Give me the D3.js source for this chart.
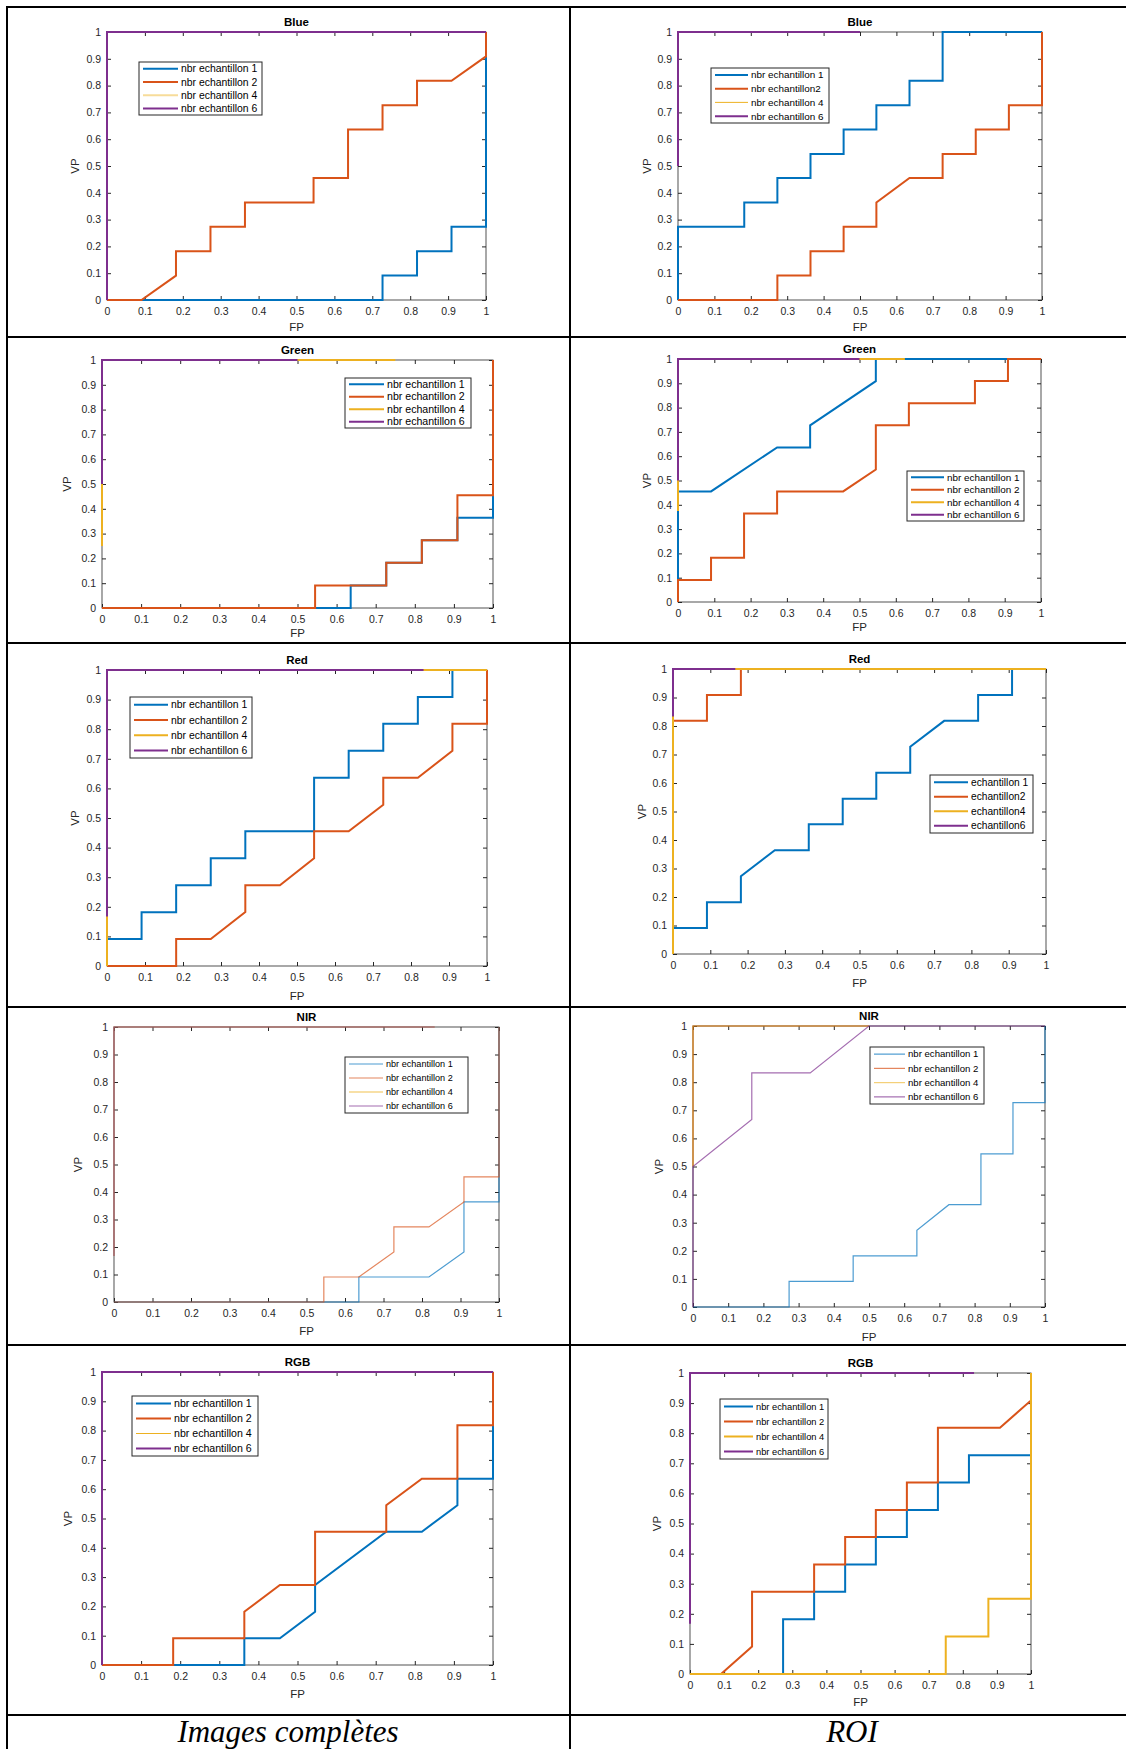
<!DOCTYPE html>
<html>
<head>
<meta charset="utf-8">
<script src="https://cdn.jsdelivr.net/npm/d3@7"></script>
<style>
  body { margin: 0; background: #fff; }
  svg { display: block; }
</style>
</head>
<body>
<svg width="1126" height="1749"></svg>
<script>
// Tick values and labels shared by every panel
const ticks = [0, 0.1, 0.2, 0.3, 0.4, 0.5, 0.6, 0.7, 0.8, 0.9, 1];
const tickLabels = ["0", "0.1", "0.2", "0.3", "0.4", "0.5", "0.6", "0.7", "0.8", "0.9", "1"];

// Legend texts
const namesNbr = ["nbr echantillon 1", "nbr echantillon 2", "nbr echantillon 4", "nbr echantillon 6"];
const namesBlueRoi = ["nbr echantillon 1", "nbr echantillon2", "nbr echantillon 4", "nbr echantillon 6"];
const namesRedRoi = ["echantillon 1", "echantillon2", "echantillon4", "echantillon6"];
const colors = ["#0072BD", "#D95319", "#EDB120", "#7E2F8E"];

// Column captions
const captions = ["Images complètes", "ROI"];

// ROC curves (FP, VP) — Blue
const blueImg1 = [[0,0],[0.727,0],[0.727,0.091],[0.818,0.091],[0.818,0.182],[0.909,0.182],[0.909,0.273],[1,0.273],[1,1]];
const blueImg2 = [[0,0],[0.091,0],[0.182,0.091],[0.182,0.182],[0.273,0.182],[0.273,0.273],[0.364,0.273],[0.364,0.364],[0.545,0.364],[0.545,0.455],[0.636,0.455],[0.636,0.636],[0.727,0.636],[0.727,0.727],[0.818,0.727],[0.818,0.818],[0.909,0.818],[1,0.909],[1,1]];
const blueImg4 = [[0,0],[0,1],[1,1]];
const blueImg6 = [[0,0],[0,1],[1,1]];
const blueRoi1 = [[0,0],[0,0.273],[0.182,0.273],[0.182,0.364],[0.273,0.364],[0.273,0.455],[0.364,0.455],[0.364,0.545],[0.455,0.545],[0.455,0.636],[0.545,0.636],[0.545,0.727],[0.636,0.727],[0.636,0.818],[0.727,0.818],[0.727,1],[1,1]];
const blueRoi2 = [[0,0],[0.273,0],[0.273,0.091],[0.364,0.091],[0.364,0.182],[0.455,0.182],[0.455,0.273],[0.545,0.273],[0.545,0.364],[0.636,0.455],[0.727,0.455],[0.727,0.545],[0.818,0.545],[0.818,0.636],[0.909,0.636],[0.909,0.727],[1,0.727],[1,1]];
const blueRoi4 = [[0,0.5],[0,1],[0.5,1]];
const blueRoi6 = [[0,0.5],[0,1],[0.5,1]];

// Green
const greenImg1 = [[0,0],[0.636,0],[0.636,0.091],[0.727,0.091],[0.727,0.182],[0.818,0.182],[0.818,0.273],[0.909,0.273],[0.909,0.364],[1,0.364],[1,1]];
const greenImg2 = [[0,0],[0.545,0],[0.545,0.091],[0.727,0.091],[0.727,0.182],[0.818,0.182],[0.818,0.273],[0.909,0.273],[0.909,0.455],[1,0.455],[1,1]];
const greenImg4 = [[0,0.25],[0,1],[0.75,1]];
const greenImg6 = [[0,0.5],[0,1],[0.5,1]];
const greenRoi1 = [[0,0],[0,0.455],[0.091,0.455],[0.273,0.636],[0.364,0.636],[0.364,0.727],[0.545,0.909],[0.545,1],[1,1]];
const greenRoi2 = [[0,0],[0,0.091],[0.091,0.091],[0.091,0.182],[0.182,0.182],[0.182,0.364],[0.273,0.364],[0.273,0.455],[0.455,0.455],[0.545,0.545],[0.545,0.727],[0.636,0.727],[0.636,0.818],[0.818,0.818],[0.818,0.909],[0.909,0.909],[0.909,1],[1,1]];
const greenRoi4 = [[0,0.375],[0,1],[0.625,1]];
const greenRoi6 = [[0,0.5],[0,1],[0.5,1]];

// Red
const redImg1 = [[0,0],[0,0.091],[0.091,0.091],[0.091,0.182],[0.182,0.182],[0.182,0.273],[0.273,0.273],[0.273,0.364],[0.364,0.364],[0.364,0.455],[0.545,0.455],[0.545,0.636],[0.636,0.636],[0.636,0.727],[0.727,0.727],[0.727,0.818],[0.818,0.818],[0.818,0.909],[0.909,0.909],[0.909,1],[1,1]];
const redImg2 = [[0,0],[0.182,0],[0.182,0.091],[0.273,0.091],[0.364,0.182],[0.364,0.273],[0.455,0.273],[0.545,0.364],[0.545,0.455],[0.636,0.455],[0.727,0.545],[0.727,0.636],[0.818,0.636],[0.909,0.727],[0.909,0.818],[1,0.818],[1,1]];
const redImg4 = [[0,0],[0,1],[1,1]];
const redImg6 = [[0,0.167],[0,1],[0.833,1]];
const redRoi1 = [[0,0],[0,0.091],[0.091,0.091],[0.091,0.182],[0.182,0.182],[0.182,0.273],[0.273,0.364],[0.364,0.364],[0.364,0.455],[0.455,0.455],[0.455,0.545],[0.545,0.545],[0.545,0.636],[0.636,0.636],[0.636,0.727],[0.727,0.818],[0.818,0.818],[0.818,0.909],[0.909,0.909],[0.909,1],[1,1]];
const redRoi2 = [[0,0],[0,0.818],[0.091,0.818],[0.091,0.909],[0.182,0.909],[0.182,1],[1,1]];
const redRoi4 = [[0,0],[0,1],[1,1]];
const redRoi6 = [[0,0.833],[0,1],[0.167,1]];

// NIR
const nirImg1 = [[0,0],[0.636,0],[0.636,0.091],[0.818,0.091],[0.909,0.182],[0.909,0.364],[1,0.364],[1,1]];
const nirImg2 = [[0,0],[0.545,0],[0.545,0.091],[0.636,0.091],[0.727,0.182],[0.727,0.273],[0.818,0.273],[0.909,0.364],[0.909,0.455],[1,0.455],[1,1]];
const nirImg4 = [[0,0.167],[0,1],[0.833,1]];
const nirImg6 = [[0,0.167],[0,1],[0.833,1]];
const nirRoi1 = [[0,0],[0.273,0],[0.273,0.091],[0.455,0.091],[0.455,0.182],[0.636,0.182],[0.636,0.273],[0.727,0.364],[0.818,0.364],[0.818,0.545],[0.909,0.545],[0.909,0.727],[1,0.727],[1,1]];
const nirRoi2 = [[0,0.5],[0,1],[0.5,1]];
const nirRoi4 = [[0,0.5],[0,1],[0.5,1]];
const nirRoi6 = [[0,0],[0,0.5],[0.167,0.667],[0.167,0.833],[0.333,0.833],[0.5,1],[1,1]];

// RGB
const rgbImg1 = [[0,0],[0.364,0],[0.364,0.091],[0.455,0.091],[0.545,0.182],[0.545,0.273],[0.727,0.455],[0.818,0.455],[0.909,0.545],[0.909,0.636],[1,0.636],[1,1]];
const rgbImg2 = [[0,0],[0.182,0],[0.182,0.091],[0.364,0.091],[0.364,0.182],[0.455,0.273],[0.545,0.273],[0.545,0.455],[0.727,0.455],[0.727,0.545],[0.818,0.636],[0.909,0.636],[0.909,0.818],[1,0.818],[1,1]];
const rgbImg4 = [[0,0],[0,1],[1,1]];
const rgbImg6 = [[0,0],[0,1],[1,1]];
const rgbRoi1 = [[0,0],[0.273,0],[0.273,0.182],[0.364,0.182],[0.364,0.273],[0.455,0.273],[0.455,0.364],[0.545,0.364],[0.545,0.455],[0.636,0.455],[0.636,0.545],[0.727,0.545],[0.727,0.636],[0.818,0.636],[0.818,0.727],[1,0.727],[1,1]];
const rgbRoi2 = [[0,0],[0.091,0],[0.182,0.091],[0.182,0.273],[0.364,0.273],[0.364,0.364],[0.455,0.364],[0.455,0.455],[0.545,0.455],[0.545,0.545],[0.636,0.545],[0.636,0.636],[0.727,0.636],[0.727,0.818],[0.909,0.818],[1,0.909],[1,1]];
const rgbRoi4 = [[0,0],[0.75,0],[0.75,0.125],[0.875,0.125],[0.875,0.25],[1,0.25],[1,1]];
const rgbRoi6 = [[0,0.167],[0,1],[0.833,1]];

const svg = d3.select('svg');
const sans = "'Liberation Sans', Arial, Helvetica, sans-serif";

// panel layout: plot box [x0, x1, y0, y1], legend [x, y, w, h], legend text offset + font size
const panels = [
  { title: 'Blue', series: [blueImg1, blueImg2, blueImg4, blueImg6], names: namesNbr,
    box: [107, 486, 32, 300], legend: [139, 62, 123, 53], lt: 42, lf: 10.4, vp: 32, fp: 27, widths: [2, 2, 2, 2], yOp: 0.45 },
  { title: 'Blue', series: [blueRoi1, blueRoi2, blueRoi4, blueRoi6], names: namesBlueRoi,
    box: [678, 1042, 32, 300], legend: [711, 68, 118, 55], lt: 40, lf: 9.9, vp: 31, fp: 27, widths: [2, 2, 1, 2], yOp: 1 },
  { title: 'Green', series: [greenImg1, greenImg2, greenImg4, greenImg6], names: namesNbr,
    box: [102, 493, 360, 608], legend: [345, 378, 126, 50], lt: 42, lf: 10.6, vp: 35, fp: 25, widths: [2, 2, 2, 2], yOp: 1 },
  { title: 'Green', series: [greenRoi1, greenRoi2, greenRoi4, greenRoi6], names: namesNbr,
    box: [678, 1041, 359, 602], legend: [907, 471, 117, 50], lt: 40, lf: 9.9, vp: 31, fp: 25, widths: [2, 2, 2, 2], yOp: 1 },
  { title: 'Red', series: [redImg1, redImg2, redImg4, redImg6], names: namesNbr,
    box: [107, 487, 670, 966], legend: [130, 697, 122, 61], lt: 41, lf: 10.4, vp: 32, fp: 30, widths: [2, 2, 2, 2], yOp: 1 },
  { title: 'Red', series: [redRoi1, redRoi2, redRoi4, redRoi6], names: namesRedRoi,
    box: [673, 1046, 669, 954], legend: [930, 775, 103, 58], lt: 41, lf: 10.2, vp: 31, fp: 29, widths: [2, 2, 2, 2], yOp: 1 },
  { title: 'NIR', series: [nirImg1, nirImg2, nirImg4, nirImg6], names: namesNbr,
    box: [114, 499, 1027, 1302], legend: [345, 1057, 123, 56], lt: 41, lf: 9.1, vp: 36, fp: 29, widths: [1.2, 1.2, 1.2, 1.2], yOp: 0.8, light: true },
  { title: 'NIR', series: [nirRoi1, nirRoi2, nirRoi4, nirRoi6], names: namesNbr,
    box: [693, 1045, 1026, 1307], legend: [870, 1047, 114, 57], lt: 38, lf: 9.6, vp: 34, fp: 30, widths: [1.2, 1.2, 1.2, 1.2], yOp: 0.6, light: true },
  { title: 'RGB', series: [rgbImg1, rgbImg2, rgbImg4, rgbImg6], names: namesNbr,
    box: [102, 493, 1372, 1665], legend: [132, 1396, 126, 60], lt: 42, lf: 10.6, vp: 34, fp: 29, widths: [2, 2, 1, 2], yOp: 1 },
  { title: 'RGB', series: [rgbRoi1, rgbRoi2, rgbRoi4, rgbRoi6], names: namesNbr,
    box: [690, 1031, 1373, 1674], legend: [720, 1399, 108, 60], lt: 36, lf: 9.3, vp: 33, fp: 28, widths: [2, 2, 2, 2], yOp: 1 }
];

function drawPanel(p) {
  const [x0, x1, y0, y1] = p.box;
  const x = d3.scaleLinear().domain([0, 1]).range([x0, x1]);
  const y = d3.scaleLinear().domain([0, 1]).range([y1, y0]);
  const g = svg.append('g');
  const fmt = (d, i) => tickLabels[i];

  const bottom = g.append('g').attr('transform', `translate(0,${y1})`)
    .call(d3.axisBottom(x).tickValues(ticks).tickFormat(fmt).tickSizeInner(-4).tickSizeOuter(0).tickPadding(8));
  const left = g.append('g').attr('transform', `translate(${x0},0)`)
    .call(d3.axisLeft(y).tickValues(ticks).tickFormat(fmt).tickSizeInner(-4).tickSizeOuter(0).tickPadding(6));
  g.append('g').attr('transform', `translate(0,${y0})`)
    .call(d3.axisTop(x).tickValues(ticks).tickFormat('').tickSizeInner(-4).tickSizeOuter(0));
  g.append('g').attr('transform', `translate(${x1},0)`)
    .call(d3.axisRight(y).tickValues(ticks).tickFormat('').tickSizeInner(-4).tickSizeOuter(0));
  g.selectAll('.domain').remove();
  g.selectAll('.tick line').attr('stroke', '#262626');
  [bottom, left].forEach(a => a.attr('font-family', sans).attr('font-size', 10.5));
  g.selectAll('.tick text').attr('fill', '#262626');

  g.append('rect')
    .attr('x', x0).attr('y', y0).attr('width', x1 - x0).attr('height', y1 - y0)
    .attr('fill', 'none').attr('stroke', '#262626').attr('stroke-width', 0.8);

  const opacity = i => (i === 2 ? p.yOp : (p.light ? 0.7 : 1));
  const line = d3.line().x(d => x(d[0])).y(d => y(d[1]));
  p.series.forEach((s, i) => {
    g.append('path')
      .attr('d', line(s))
      .attr('fill', 'none')
      .attr('stroke', colors[i])
      .attr('stroke-width', p.widths[i])
      .attr('stroke-opacity', opacity(i));
  });

  // title and axis labels
  g.append('text')
    .attr('x', (x0 + x1) / 2).attr('y', y0 - 6)
    .attr('text-anchor', 'middle')
    .attr('font-family', sans).attr('font-size', 11.5).attr('font-weight', 'bold')
    .attr('fill', '#000').text(p.title);
  g.append('text')
    .attr('x', (x0 + x1) / 2).attr('y', y1 + p.fp + 4)
    .attr('text-anchor', 'middle')
    .attr('font-family', sans).attr('font-size', 11.5).attr('fill', '#262626').text('FP');
  g.append('text')
    .attr('transform', `translate(${x0 - p.vp + 4},${(y0 + y1) / 2}) rotate(-90)`)
    .attr('text-anchor', 'middle')
    .attr('font-family', sans).attr('font-size', 11.5).attr('fill', '#262626').text('VP');

  // legend
  const [lx, ly, lw, lh] = p.legend;
  const leg = g.append('g');
  leg.append('rect')
    .attr('x', lx).attr('y', ly).attr('width', lw).attr('height', lh)
    .attr('fill', '#fff').attr('stroke', '#262626').attr('stroke-width', 1);
  p.names.forEach((n, i) => {
    const cy = ly + (i + 0.5) * lh / 4;
    leg.append('line')
      .attr('x1', lx + 4).attr('x2', lx + p.lt - 3).attr('y1', cy).attr('y2', cy)
      .attr('stroke', colors[i]).attr('stroke-width', p.widths[i])
      .attr('stroke-opacity', opacity(i));
    leg.append('text')
      .attr('x', lx + p.lt).attr('y', cy + p.lf * 0.35)
      .attr('font-family', sans).attr('font-size', p.lf).attr('fill', '#000')
      .text(n);
  });
}

panels.forEach(drawPanel);

// table frame
const rowLines = [7, 337, 643, 1007, 1345, 1715];
const frame = svg.append('g').attr('stroke', '#000').attr('stroke-width', 2);
rowLines.forEach(yy => frame.append('line').attr('x1', 6).attr('x2', 1126).attr('y1', yy).attr('y2', yy));
[7, 570].forEach(xx => frame.append('line').attr('x1', xx).attr('x2', xx).attr('y1', 6).attr('y2', 1749));

// column captions
[288, 852].forEach((cx, i) => {
  svg.append('text')
    .attr('x', cx).attr('y', 1742)
    .attr('text-anchor', 'middle')
    .attr('font-family', "'Liberation Serif', 'Times New Roman', serif")
    .attr('font-style', 'italic').attr('font-size', 31)
    .text(captions[i]);
});
</script>
</body>
</html>
